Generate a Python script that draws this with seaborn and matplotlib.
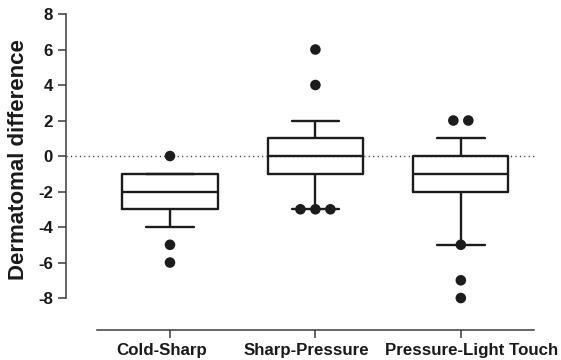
import numpy as np
import pandas as pd
import matplotlib
matplotlib.use("Agg")
import matplotlib.pyplot as plt
import matplotlib.transforms as mtransforms
import seaborn as sns

categories = ["Cold-Sharp", "Sharp-Pressure", "Pressure-Light Touch"]
whisker_low = [-4, -3, -5]
q1 = [-3, -1, -2]
median = [-2, 0, -1]
q3 = [-1, 1, 0]
whisker_high = [-1, 2, 1]

outliers_cold_sharp = [0, -5, -6]
outliers_sharp_pressure = [6, 4, -3, -3, -3]
outliers_pressure_light = [2, 2, -5, -7, -8]

y_ticks = [-8, -6, -4, -2, 0, 2, 4, 6, 8]
y_label = "Dermatomal difference"

# box summary table (5 values per group reproduce min/Q1/median/Q3/max exactly)
rows = []
for i, c in enumerate(categories):
    for v in (whisker_low[i], q1[i], median[i], q3[i], whisker_high[i]):
        rows.append({"group": c, "value": v})
box_df = pd.DataFrame(rows)

# outliers; tied values are spread symmetrically around the category centre
dot_step = 0.103  # category units between tied dots
out_rows = []
for i, vals in enumerate([outliers_cold_sharp, outliers_sharp_pressure, outliers_pressure_light]):
    vals = np.asarray(vals)
    for v in np.unique(vals):
        n = int((vals == v).sum())
        for k in range(n):
            out_rows.append({"pos": i + (k - (n - 1) / 2) * dot_step, "value": v})
out_df = pd.DataFrame(out_rows)

sns.set_theme(style="ticks")
plt.rcParams["font.family"] = ["Liberation Sans", "DejaVu Sans"]
plt.rcParams["font.weight"] = "bold"
plt.rcParams["axes.unicode_minus"] = False

W, H = 561, 360
fig = plt.figure(figsize=(W / 100, H / 100), dpi=100)
ax = fig.add_axes([66 / W, (H - 330) / H, (535 - 66) / W, (330 - 14) / H])

line_col = "#1c1c1c"
spine_col = "#3c3c3c"

ax.axhline(0, color="#333333", lw=1.0, dashes=(0.8, 2.4), zorder=0.5)

sns.boxplot(data=box_df, x="group", y="value", order=categories, whis=(0, 100),
            showfliers=False, fill=False, color=line_col, width=0.655,
            linewidth=1.7, ax=ax)

sns.scatterplot(data=out_df, x="pos", y="value", color=line_col, s=58,
                edgecolor="none", linewidth=0, ax=ax, zorder=3, legend=False)

ax.set_xlim(-0.715, 2.51)
ax.set_ylim(-9.8, 8)
ax.set_xticks(range(len(categories)))
ax.set_xticklabels(categories)
ax.set_yticks(y_ticks)
ax.set_yticklabels([str(t) for t in y_ticks])

for s in ["top", "right"]:
    ax.spines[s].set_visible(False)
ax.spines["left"].set_bounds(-8, 8)
ax.spines["bottom"].set_bounds(-0.5, 2.5)
for s in ["left", "bottom"]:
    ax.spines[s].set_color(spine_col)
    ax.spines[s].set_linewidth(1.1)

ax.tick_params(axis="both", length=6, width=1.1, color=spine_col, pad=3.5,
               labelsize=12.2, labelcolor="#1a1a1a")
for lab in ax.get_xticklabels() + ax.get_yticklabels():
    lab.set_fontweight("bold")

# nudge category labels apart as in the reference
label_shift_px = [-8, -9, 11]
for lab, dx in zip(ax.get_xticklabels(), label_shift_px):
    lab.set_transform(lab.get_transform() +
                      mtransforms.ScaledTranslation(dx / 100, 0, fig.dpi_scale_trans))

ax.set_xlabel("")
ax.set_ylabel(y_label, fontsize=16, fontweight="bold", color="#1a1a1a")
ax.yaxis.set_label_coords((29 - 66) / 469, (330 - 160) / 316)

fig.savefig("out.png", dpi=100)
